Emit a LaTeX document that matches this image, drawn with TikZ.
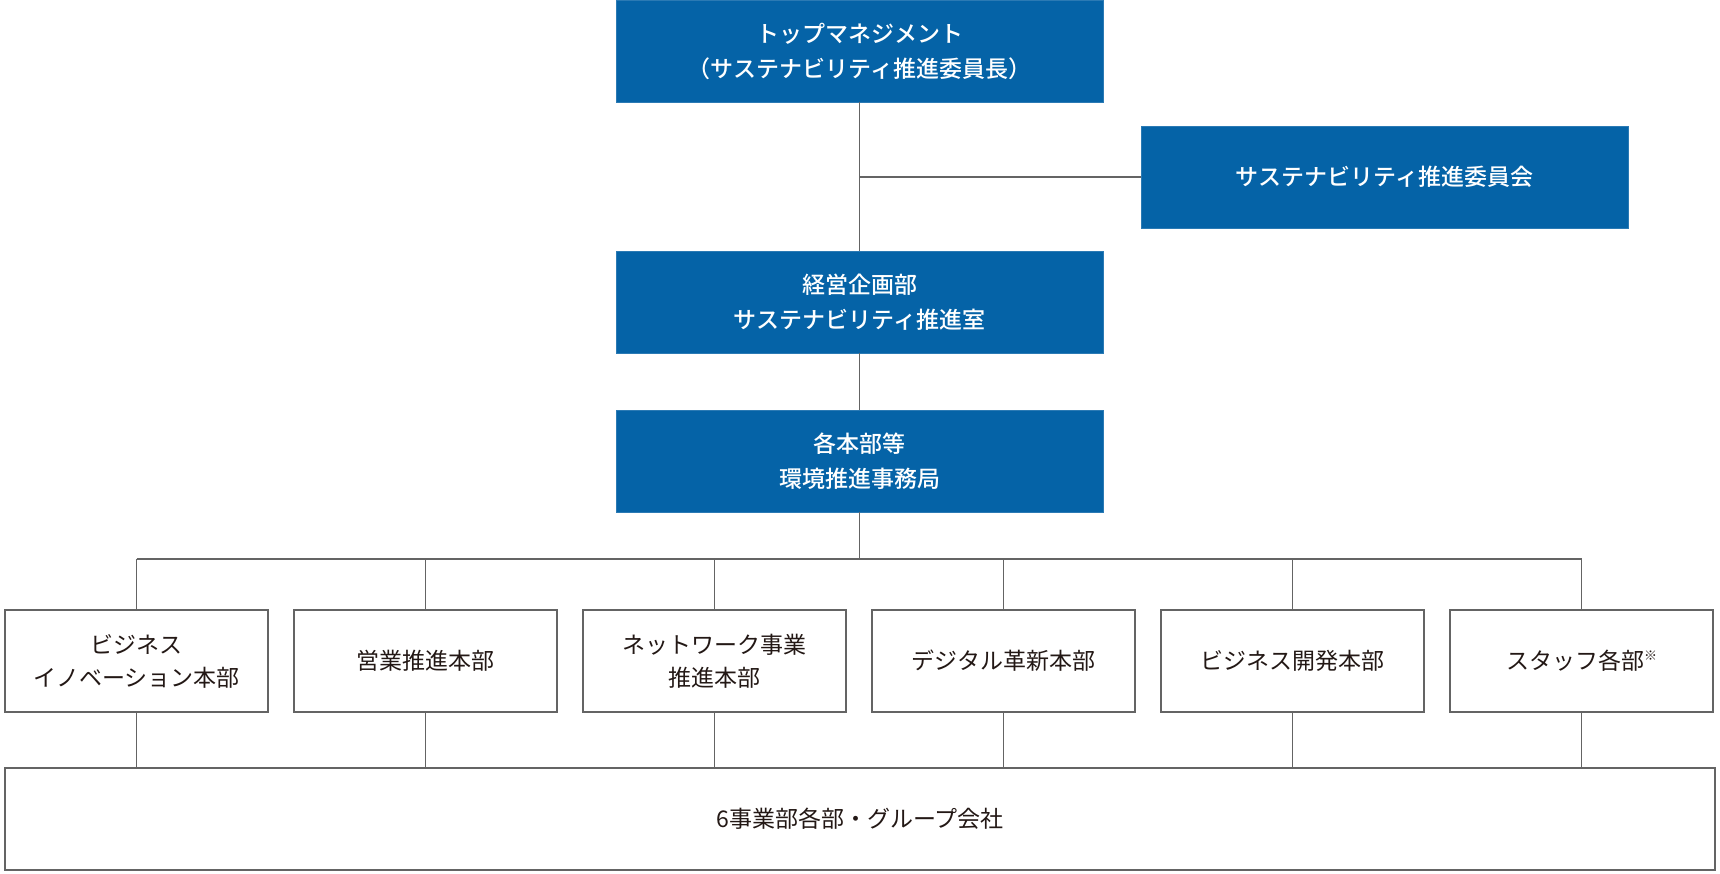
\documentclass[tikz,border=0pt]{standalone}
\usepackage{fontspec}
\setmainfont{Noto Sans CJK JP}[BoldFont={Noto Sans CJK JP Medium}]
\usetikzlibrary{positioning,calc}

\definecolor{soshikiblue}{RGB}{5,99,167}
\definecolor{senline}{RGB}{100,100,100}
\definecolor{sumi}{RGB}{35,24,21}

\tikzset{
  bluebox/.style={fill=soshikiblue, draw=soshikiblue!85!white, line width=0.8pt,
    text=white, font=\fontsize{23}{35}\selectfont\bfseries, align=center,
    minimum width=487pt, minimum height=102pt, inner sep=0pt, outer sep=0pt},
  whitebox/.style={fill=white, draw=senline, line width=1.6pt,
    text=sumi, font=\fontsize{23}{33}\selectfont, align=center,
    minimum width=263pt, minimum height=102pt, inner sep=0pt, outer sep=0pt},
  conn/.style={draw=senline, line width=1.6pt}
}

\begin{document}
\begin{tikzpicture}
    \useasboundingbox[fill=white] (0,0) rectangle (1720pt,-874pt);

    % upper chain
    \node[bluebox] (top) at (859.5pt,-51pt) {トップマネジメント\\（サステナビリティ推進委員長）};
    \node[bluebox] (iinkai) at (1384.5pt,-177pt) {サステナビリティ推進委員会};
    \node[bluebox, below=149pt of top] (keiei) {経営企画部\\サステナビリティ推進室};
    \node[bluebox, below=57pt of keiei] (kakuhonbu) {各本部等\\環境推進事務局};

    % honbu row
    \node[whitebox] (bizinno) at (136.5pt,-661pt) {ビジネス\\イノベーション本部};
    \node[whitebox, right=26pt of bizinno] (eigyo) {営業推進本部};
    \node[whitebox, right=26pt of eigyo] (network) {ネットワーク事業\\推進本部};
    \node[whitebox, right=26pt of network] (digital) {デジタル革新本部};
    \node[whitebox, right=26pt of digital] (bizdev) {ビジネス開発本部};
    \node[whitebox, right=26pt of bizdev] (staff) {スタッフ各部\raisebox{0.4em}{\fontsize{13}{13}\selectfont ※}};

    \node[whitebox, minimum width=1710pt] (group) at (860pt,-819pt) {6事業部各部・グループ会社};

    \coordinate (bus) at ($(kakuhonbu.south)+(0,-47pt)$);

    \draw[conn] (top) -- (keiei);
    \draw[conn] (iinkai.west) -- (iinkai.west -| top.south);
    \draw[conn] (keiei) -- (kakuhonbu);
    \draw[conn] (kakuhonbu.south) -- (bus);
    \draw[conn] (bus -| bizinno.north) -- (bus -| staff.north);

    \draw[conn] (bizinno.north) -- (bizinno.north |- bus);
    \draw[conn] (eigyo.north) -- (eigyo.north |- bus);
    \draw[conn] (network.north) -- (network.north |- bus);
    \draw[conn] (digital.north) -- (digital.north |- bus);
    \draw[conn] (bizdev.north) -- (bizdev.north |- bus);
    \draw[conn] (staff.north) -- (staff.north |- bus);

    \draw[conn] (bizinno.south) -- (bizinno.south |- group.north);
    \draw[conn] (eigyo.south) -- (eigyo.south |- group.north);
    \draw[conn] (network.south) -- (network.south |- group.north);
    \draw[conn] (digital.south) -- (digital.south |- group.north);
    \draw[conn] (bizdev.south) -- (bizdev.south |- group.north);
    \draw[conn] (staff.south) -- (staff.south |- group.north);
\end{tikzpicture}
\end{document}
